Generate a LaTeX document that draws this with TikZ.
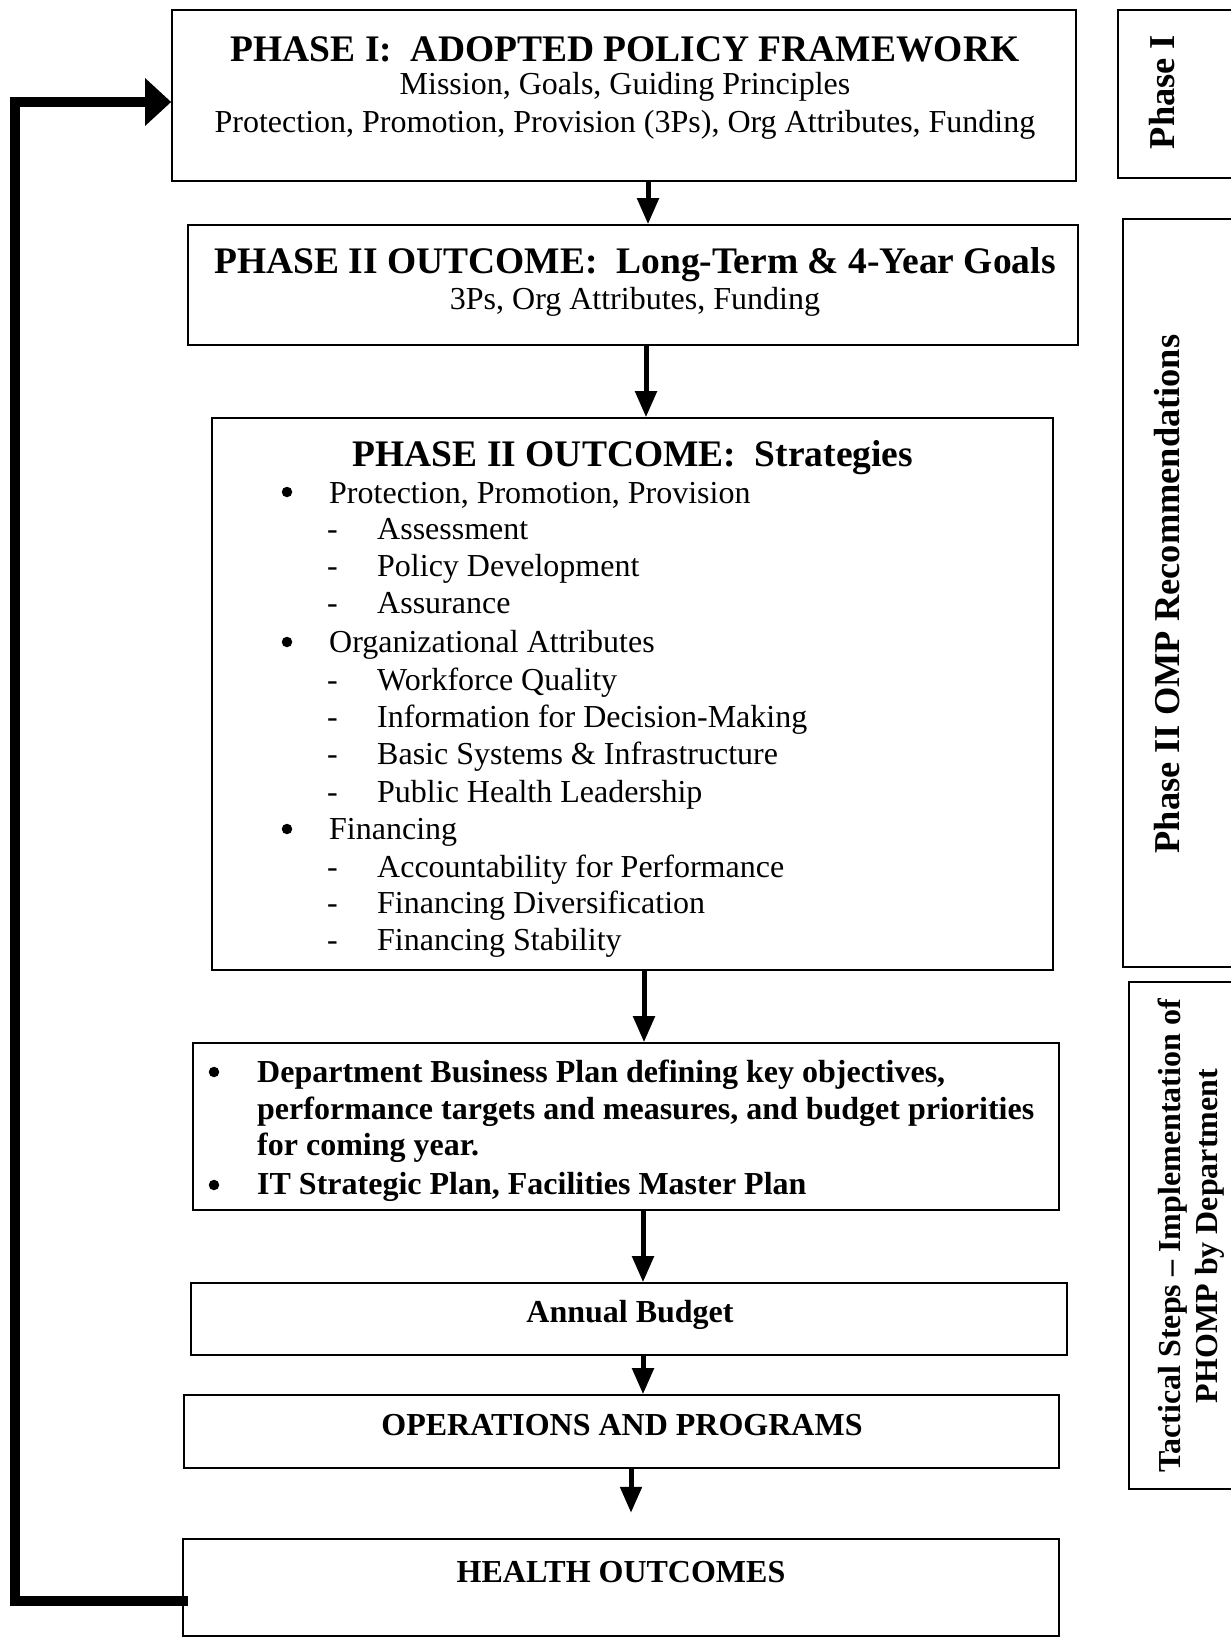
\documentclass[tikz,border=0pt]{standalone}
\usepackage{fontspec}
\setmainfont{Liberation Serif}
\usetikzlibrary{arrows.meta}
\tikzset{
  box/.style={draw, line width=1.6pt, inner sep=0pt},
  sidebox/.style={draw, line width=1.6pt, inner sep=0pt},
  flow/.style={line width=5pt, -{Triangle[width=21pt,length=26pt]}},
  fb/.style={line width=10pt, -{Triangle[width=46pt,length=26pt]}},
  ttl/.style={anchor=base, inner sep=0pt, font=\fontsize{37.5}{44}\selectfont\bfseries},
  sub/.style={anchor=base, inner sep=0pt, font=\fontsize{32}{38}\selectfont},
  item/.style={anchor=base west, inner sep=0pt, font=\fontsize{32}{38}\selectfont},
  bitem/.style={anchor=base west, inner sep=0pt, font=\fontsize{32}{38}\selectfont\bfseries},
  mid/.style={anchor=base, inner sep=0pt, font=\fontsize{32}{38}\selectfont\bfseries},
  side/.style={inner sep=0pt, rotate=90, align=center, font=\fontsize{36.4}{40}\selectfont\bfseries},
  side2/.style={inner sep=0pt, rotate=90, align=center, font=\fontsize{32}{37}\selectfont\bfseries},
  dot/.style={circle, fill, inner sep=0pt, minimum size=10.5pt},
}
\begin{document}
\begin{tikzpicture}[x=1pt,y=-1pt]
\useasboundingbox (0,0) rectangle (1231,1638);
% boxes
\node[box, minimum width=904pt, minimum height=171pt] (b1) at (624,95.5) {};
\node[box, minimum width=890pt, minimum height=120pt] (b2) at (633,285) {};
\node[box, minimum width=841pt, minimum height=552pt] (b3) at (632.5,694) {};
\node[box, minimum width=866pt, minimum height=167pt] (b4) at (626,1126.5) {};
\node[box, minimum width=876pt, minimum height=72pt] (b5) at (629,1319) {};
\node[box, minimum width=875pt, minimum height=73pt] (b6) at (621.5,1431.5) {};
\node[box, minimum width=876pt, minimum height=97pt] (b7) at (621,1587.5) {};
% side boxes
\node[sidebox, minimum width=122pt, minimum height=168pt] (s1) at (1179,94) {};
\node[sidebox, minimum width=117pt, minimum height=748pt] (s2) at (1181.5,593) {};
\node[sidebox, minimum width=111pt, minimum height=507pt] (s3) at (1184.5,1235.5) {};
\node[side] (s1t) at (1162,92) {Phase I};
\node[side] (s2t) at (1167,594) {Phase II OMP Recommendations};
\node[side2] (s3t) at (1191,1236) {Tactical Steps -- Implementation of\\PHOMP by Department};
% box 1 text
\node[ttl] (t1) at (625,61) {PHASE I:\ \ ADOPTED POLICY FRAMEWORK};
\node[sub] (t1a) at (625,94) {Mission, Goals, Guiding Principles};
\node[sub] (t1b) at (625,132) {Protection, Promotion, Provision (3Ps), Org Attributes, Funding};
% box 2 text
\node[ttl] (t2) at (635,273) {PHASE II OUTCOME:\ \ Long-Term \& 4-Year Goals};
\node[sub] (t2a) at (635,309) {3Ps, Org Attributes, Funding};
% box 3 text
\node[ttl] (t3) at (633,466) {PHASE II OUTCOME:\ \ Strategies};
\node[dot] (p1) at (287,492) {};
\node[item] (q1) at (329,503) {Protection, Promotion, Provision};
\node[item] (d1) at (327,539) {-};
\node[item] (r1) at (377,539) {Assessment};
\node[item] (d2) at (327,576) {-};
\node[item] (r2) at (377,576) {Policy Development};
\node[item] (d3) at (327,613) {-};
\node[item] (r3) at (377,613) {Assurance};
\node[dot] (p2) at (287,642) {};
\node[item] (q2) at (329,652) {Organizational Attributes};
\node[item] (d4) at (327,690) {-};
\node[item] (r4) at (377,690) {Workforce Quality};
\node[item] (d5) at (327,727) {-};
\node[item] (r5) at (377,727) {Information for Decision-Making};
\node[item] (d6) at (327,764) {-};
\node[item] (r6) at (377,764) {Basic Systems \& Infrastructure};
\node[item] (d7) at (327,802) {-};
\node[item] (r7) at (377,802) {Public Health Leadership};
\node[dot] (p3) at (287,829) {};
\node[item] (q3) at (329,839) {Financing};
\node[item] (d8) at (327,877) {-};
\node[item] (r8) at (377,877) {Accountability for Performance};
\node[item] (d9) at (327,913) {-};
\node[item] (r9) at (377,913) {Financing Diversification};
\node[item] (d10) at (327,950) {-};
\node[item] (r10) at (377,950) {Financing Stability};
% box 4 text
\node[dot] (u1) at (214,1072) {};
\node[bitem] (v1) at (257,1082) {Department Business Plan defining key objectives,};
\node[bitem] (v2) at (257,1119) {performance targets and measures, and budget priorities};
\node[bitem] (v3) at (257,1155) {for coming year.};
\node[dot] (u2) at (214,1185) {};
\node[bitem] (v4) at (257,1194) {IT Strategic Plan, Facilities Master Plan};
% other boxes
\node[mid] (t5) at (630,1322) {Annual Budget};
\node[mid] (t6) at (622,1435) {OPERATIONS AND PROGRAMS};
\node[mid] (t7) at (621,1582) {HEALTH OUTCOMES};
% arrows
\coordinate (a1) at (648,0);
\coordinate (a2) at (646,0);
\coordinate (a3) at (644,0);
\coordinate (a4) at (643,0);
\coordinate (a5) at (643,0);
\coordinate (a6) at (631,0);
\draw[flow] (b1.south -| a1) -- (b2.north -| a1);
\draw[flow] (b2.south -| a2) -- (b3.north -| a2);
\draw[flow] (b3.south -| a3) -- (b4.north -| a3);
\draw[flow] (b4.south -| a4) -- (b5.north -| a4);
\draw[flow] (b5.south -| a5) -- (b6.north -| a5);
\draw[flow] (b6.south -| a6) -- ++(0,44);
% feedback
\coordinate (f1) at (15,1601);
\coordinate (f2) at (15,102);
\draw[fb] ([xshift=6pt]b7.west |- f1) -- (f1) -- (f2) -- (b1.west |- f2);
\end{tikzpicture}
\end{document}
